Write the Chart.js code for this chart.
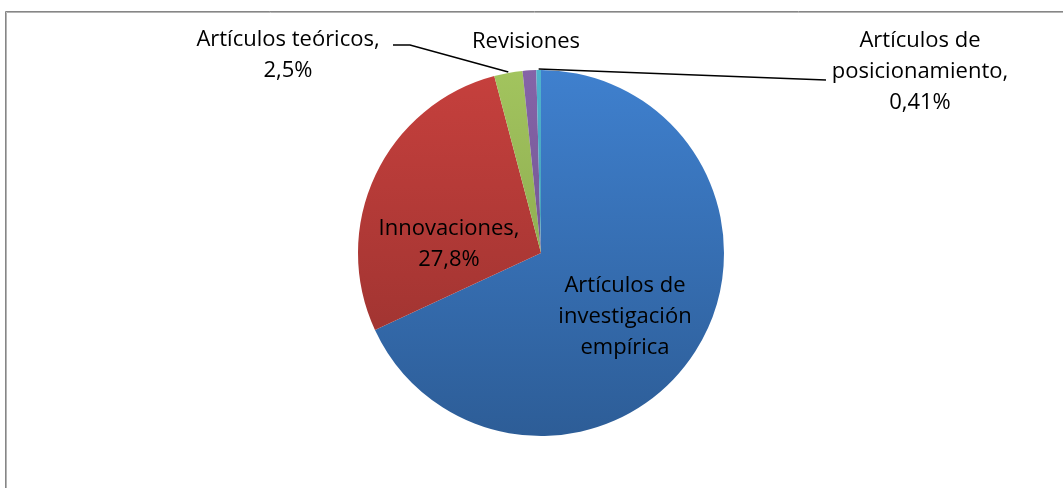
<!DOCTYPE html>
<html>
<head>
<meta charset="utf-8">
<script src="https://cdn.jsdelivr.net/npm/chart.js@4.4.0/dist/chart.umd.min.js"></script>
<style>
  html, body { margin: 0; padding: 0; background: #fff; }
  #wrap { width: 1063px; height: 488px; position: relative; }
</style>
</head>
<body>
<div id="wrap"><canvas id="pieChart" width="1063" height="488"></canvas></div>
<script>
const categories = [
  "Artículos de investigación empírica",
  "Innovaciones",
  "Artículos teóricos",
  "Revisiones",
  "Artículos de posicionamiento",
];
const shares = [68.09, 27.8, 2.5, 1.2, 0.41];
const labelLines = [
  ["Artículos de", "investigación", "empírica"],
  ["Innovaciones,", "27,8%"],
  ["Artículos teóricos,", "2,5%"],
  ["Revisiones"],
  ["Artículos de", "posicionamiento,", "0,41%"],
];
// top / bottom colours of the vertical gradient per slice
const colTop = ["#3f80ce", "#c6403d", "#a2c45e", "#8564a8", "#4fb3cd"];
const colBottom = ["#2d5d97", "#94302d", "#7e9a46", "#634c82", "#3a8aa0"];

const FONT = '22px "Open Sans", sans-serif';
const LINE_H = 31;

function sliceFill(context) {
  const chart = context.chart;
  const area = chart.chartArea;
  if (!area) return colTop[context.dataIndex];
  const g = chart.ctx.createLinearGradient(0, area.top, 0, area.bottom);
  g.addColorStop(0, colTop[context.dataIndex]);
  g.addColorStop(1, colBottom[context.dataIndex]);
  return g;
}

const framePlugin = {
  id: "frame",
  beforeDraw(chart) {
    const c = chart.ctx;
    c.save();
    c.strokeStyle = "#868686";
    c.lineWidth = 1;
    c.beginPath();
    c.moveTo(5.5, 488);
    c.lineTo(5.5, 11.5);
    c.lineTo(1063, 11.5);
    c.stroke();
    c.strokeStyle = "#b4b4b4";
    c.beginPath();
    c.moveTo(6.5, 488);
    c.lineTo(6.5, 12.5);
    c.lineTo(1063, 12.5);
    c.stroke();
    c.restore();
  },
};

const labelPlugin = {
  id: "sliceLabels",
  afterDatasetsDraw(chart) {
    const c = chart.ctx;
    const arcs = chart.getDatasetMeta(0).data;
    const cx = arcs[0].x, cy = arcs[0].y, r = arcs[0].outerRadius;
    function edge(i, frac) {
      const a = arcs[i];
      const ang = a.startAngle + (a.endAngle - a.startAngle) * frac;
      return [cx + Math.cos(ang) * r, cy + Math.sin(ang) * r];
    }
    function text(lines, x, y) {
      lines.forEach((s, k) => c.fillText(s, x, y + k * LINE_H));
    }
    c.save();
    c.font = FONT;
    c.fillStyle = "#000";
    c.textAlign = "center";
    c.textBaseline = "middle";

    // inside labels
    text(labelLines[0], cx + 84, cy + 33);
    text(labelLines[1], cx - 92, cy - 24);

    // outside labels
    text(labelLines[2], 288, 40);
    text(labelLines[3], 526, 42);
    text(labelLines[4], 920, 41);

    // leader lines
    c.strokeStyle = "#000";
    c.lineWidth = 1.5;
    let p = edge(2, 0.5);
    c.beginPath();
    c.moveTo(393, 45);
    c.lineTo(410, 45);
    c.lineTo(p[0], p[1] - 1);
    c.stroke();
    p = edge(4, 0.5);
    c.beginPath();
    c.moveTo(p[0], p[1] - 1);
    c.lineTo(826, 80);
    c.stroke();
    c.restore();
  },
};

new Chart(document.getElementById("pieChart").getContext("2d"), {
  type: "pie",
  data: {
    labels: categories,
    datasets: [
      {
        data: shares,
        backgroundColor: sliceFill,
        borderWidth: 0,
      },
    ],
  },
  options: {
    responsive: false,
    animation: false,
    layout: { padding: { top: 70, bottom: 52, left: 200, right: 181 } },
    plugins: {
      legend: { display: false },
      tooltip: { enabled: false },
    },
  },
  plugins: [framePlugin, labelPlugin],
});
</script>
</body>
</html>
